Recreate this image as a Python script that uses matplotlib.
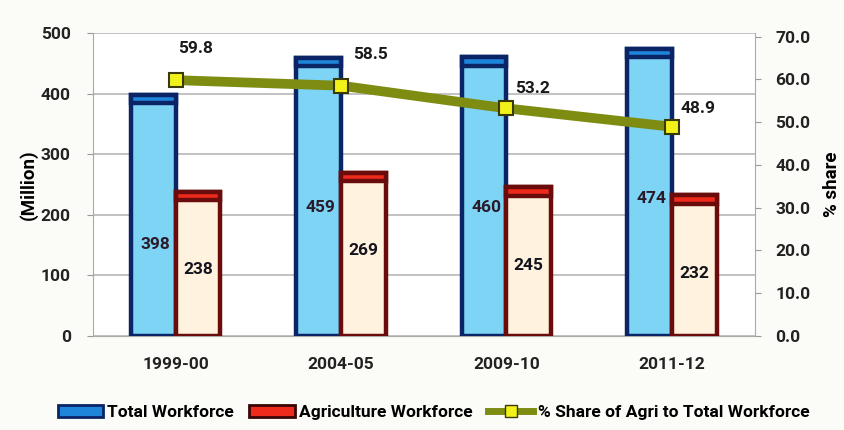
import matplotlib
matplotlib.use("Agg")
import matplotlib.pyplot as plt
from matplotlib.lines import Line2D
from matplotlib.patches import Patch
import numpy as np

# Workforce data (million) and agricultural share (%)
periods = ["1999-00", "2004-05", "2009-10", "2011-12"]
total_workforce = [398, 459, 460, 474]
agri_workforce = [238, 269, 245, 232]
agri_share = [59.8, 58.5, 53.2, 48.9]

left_ticks = [0, 100, 200, 300, 400, 500]
right_ticks = [0, 10, 20, 30, 40, 50, 60, 70]

FONT = ["Roboto", "DejaVu Sans"]
plt.rcParams["font.family"] = FONT
plt.rcParams["font.weight"] = "bold"

fig = plt.figure(figsize=(8.45, 4.30), dpi=100, facecolor="#FBFBF8")
ax = fig.add_axes([0.110, 0.219, 0.783, 0.704])
ax.set_facecolor("white")

x = np.arange(len(periods))
w = 0.27
cap = 14  # height of the coloured top band, in data units

# Total workforce bars
ax.bar(x - w / 2, total_workforce, width=w, color="#7DD4F4",
       edgecolor="#0B2466", linewidth=3.2, zorder=3)
ax.bar(x - w / 2, [cap] * len(x), bottom=np.array(total_workforce) - cap,
       width=w, color="#1E86DA", edgecolor="#0B2466", linewidth=3.2, zorder=3)

# Agriculture workforce bars
ax.bar(x + w / 2, agri_workforce, width=w, color="#FFF2DE",
       edgecolor="#6A0C0C", linewidth=3.2, zorder=3)
ax.bar(x + w / 2, [cap] * len(x), bottom=np.array(agri_workforce) - cap,
       width=w, color="#EE2A1C", edgecolor="#6A0C0C", linewidth=3.2, zorder=3)

# Value labels inside the bars
for xi, v in zip(x, total_workforce):
    ax.annotate(str(v), (xi - w / 2, v), xytext=(2, -150),
                textcoords="offset pixels", ha="center", va="center",
                fontsize=12.5, fontweight="bold", color="#2A1A2A", zorder=5)
for xi, v in zip(x, agri_workforce):
    ax.annotate(str(v), (xi + w / 2, v), xytext=(0, -78),
                textcoords="offset pixels", ha="center", va="center",
                fontsize=12.5, fontweight="bold", color="#14141E", zorder=5)

ax.set_xlim(-0.5, len(periods) - 0.5)
ax.set_ylim(0, 500)
ax.set_yticks(left_ticks)
ax.set_yticklabels([str(t) for t in left_ticks], fontsize=12.5,
                   fontweight="bold", color="#222222")
ax.set_xticks(x)
ax.set_xticklabels(periods, fontsize=12.5, fontweight="bold", color="#222222")
ax.tick_params(axis="x", length=0, pad=15)
ax.tick_params(axis="y", length=4, color="#999999", pad=12)
ax.yaxis.grid(True, color="#B8B8B8", linewidth=1.2, zorder=0)
ax.set_axisbelow(True)
for side in ["top", "right"]:
    ax.spines[side].set_visible(False)
ax.spines["left"].set_color("#AAAAAA")
ax.spines["bottom"].set_color("#AAAAAA")
ax.set_ylabel("(Million)", fontsize=13.5, fontweight="bold", labelpad=2)

# Share of agriculture on the secondary axis
ax2 = ax.twinx()
ax2.set_ylim(0, 70.8)
ax2.set_yticks(right_ticks)
ax2.set_yticklabels([f"{t:.1f}" for t in right_ticks], fontsize=12.5,
                    fontweight="bold", color="#222222")
ax2.tick_params(axis="y", length=4, color="#999999", pad=11)
for side in ["top", "left", "bottom"]:
    ax2.spines[side].set_visible(False)
ax2.spines["right"].set_color("#AAAAAA")
ax2.set_ylabel("% share", fontsize=13.5, fontweight="bold", rotation=90,
               labelpad=9)

ax2.plot(x, agri_share, color="#7E8C12", linewidth=7, solid_capstyle="round",
         marker="s", markersize=10, markerfacecolor="#F2F21A",
         markeredgecolor="#3A3A08", markeredgewidth=1.5, zorder=6)

share_offsets = [(20, 32), (29, 31), (26, 20), (26, 18)]
for xi, v, off in zip(x, agri_share, share_offsets):
    ax2.annotate(f"{v:.1f}", (xi, v), xytext=off, textcoords="offset pixels",
                 ha="center", va="center", fontsize=12.5, fontweight="bold",
                 color="#1A1A1A", zorder=7)

# Legend below the chart
handles = [
    Patch(facecolor="#1E86DA", edgecolor="#0B2466", linewidth=2),
    Patch(facecolor="#EE2A1C", edgecolor="#3A0505", linewidth=2),
    Line2D([0], [0], color="#7E8C12", linewidth=5, marker="s", markersize=8,
           markerfacecolor="#F2F21A", markeredgecolor="#3A3A08"),
]
labels = ["Total Workforce", "Agriculture Workforce",
          "% Share of Agri to Total Workforce"]
fig.legend(handles, labels, loc="center", bbox_to_anchor=(0.513, 0.04),
           ncol=3, frameon=False, handlelength=2.6,
           handletextpad=0.25, columnspacing=0.9,
           prop={"weight": "bold", "size": 12.5, "family": FONT})

fig.savefig("out.png", dpi=100, facecolor=fig.get_facecolor())
